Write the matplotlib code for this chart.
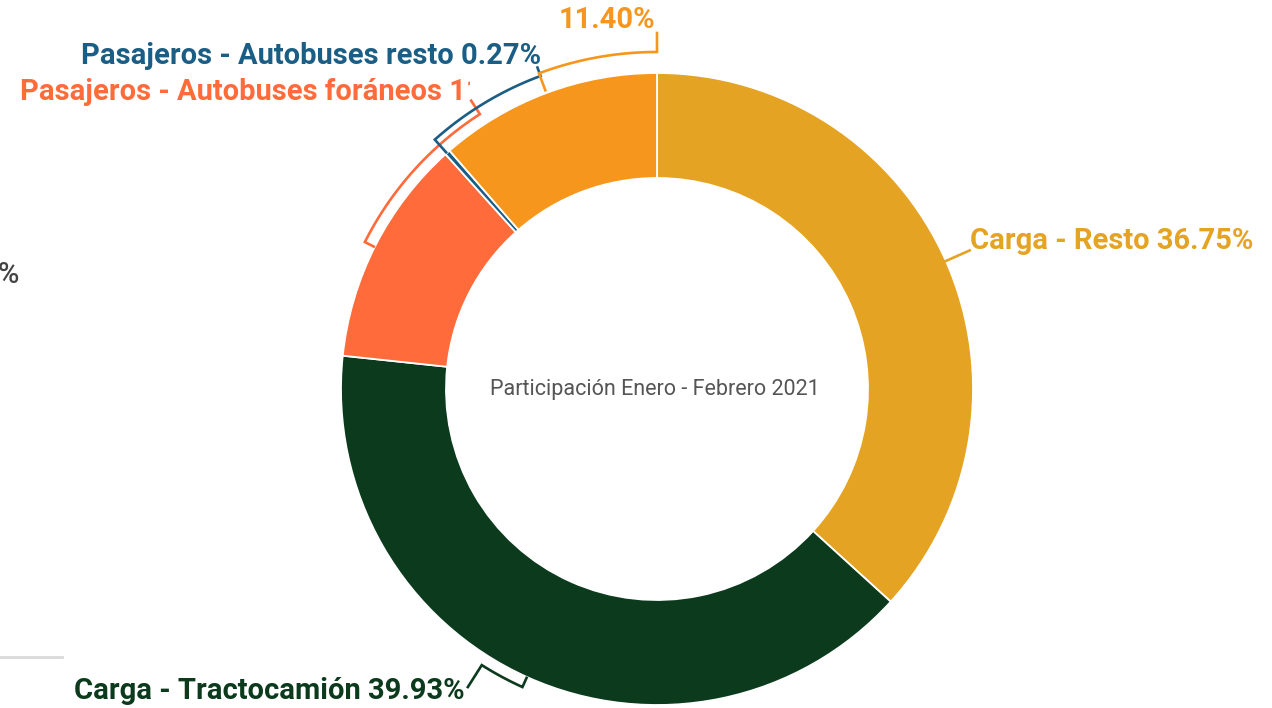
import numpy as np
import matplotlib.pyplot as plt
from matplotlib.patches import Rectangle

# participación por tipo de vehículo, ene-feb 2021 (clockwise from top)
categorias = ["Carga - Resto", "Carga - Tractocamión", "Pasajeros - Autobuses foráneos",
              "Pasajeros - Autobuses resto", "Pasajeros - Otros"]
valores = [36.75, 39.93, 11.65, 0.27, 11.40]
colores = ["#E5A323", "#0B3A1C", "#FF6B3A", "#1B5E85", "#F7961D"]
etiquetas = ["Carga - Resto 36.75%", "Carga - Tractocamión 39.93%",
             "Pasajeros - Autobuses foráneos 11.65%", "Pasajeros - Autobuses resto 0.27%",
             "11.40%"]

W, H = 1272, 708
CX, CY = 657, 389          # donut centre, pixels from top-left
R, ANCHO = 316, 105

plt.rcParams["font.family"] = ["Roboto", "DejaVu Sans"]

fig = plt.figure(figsize=(W / 100, H / 100), dpi=100)
ax = fig.add_axes([0, 0, 1, 1])
ax.pie(valores, colors=colores, startangle=90, counterclock=False,
       radius=R, center=(CX, H - CY),
       wedgeprops=dict(width=ANCHO, edgecolor="white", linewidth=1.3))
ax.set_xlim(0, W)
ax.set_ylim(0, H)
ax.set_aspect("equal")
ax.axis("off")

def polar(a, r):
    a = np.radians(a)
    return CX + r * np.cos(a), H - CY + r * np.sin(a)

def conector(a0, a1, r0, r1, r2, color):
    # radial tick, arc, radial leg to the label
    xs, ys = [], []
    x, y = polar(a0, r0); xs.append(x); ys.append(y)
    for a in np.linspace(a0, a1, 40):
        x, y = polar(a, r1); xs.append(x); ys.append(y)
    x, y = polar(a1, r2); xs.append(x); ys.append(y)
    ax.plot(xs, ys, color=color, lw=1.9, solid_joinstyle="miter", zorder=5)

# connector geometry: (tick angle, label angle, r tick, r arc, r label)
geo = [(23.9, 23.9, 316, 330, 342),
       (245.7, 237.6, 317, 327, 353),
       (153.3, 122.8, 317, 327, 343),
       (131.7, 110.4, 317, 334, 343),
       (110.5, 90.0, 319, 337, 356)]
for (a0, a1, r0, r1, r2), c in zip(geo, colores):
    conector(a0, a1, r0, r1, r2, c)

fs = 21
ax.text(970, H - 241, etiquetas[0], color=colores[0], fontsize=fs, fontweight="bold",
        ha="left", va="center")
ax.text(465, H - 691, etiquetas[1], color=colores[1], fontsize=fs, fontweight="bold",
        ha="right", va="center")
t = ax.text(20, H - 92, etiquetas[2], color=colores[2], fontsize=fs, fontweight="bold",
            ha="left", va="center")
t.set_clip_path(Rectangle((0, 0), 470, H, transform=ax.transData))
t.set_clip_on(True)
ax.text(541, H - 56, etiquetas[3], color=colores[3], fontsize=fs, fontweight="bold",
        ha="right", va="center")
ax.text(655, H - 20, etiquetas[4], color=colores[4], fontsize=fs, fontweight="bold",
        ha="right", va="center")

ax.text(CX - 2, H - 390, "Participación Enero - Febrero 2021", color="#555555",
        fontsize=15.5, ha="center", va="center")

# leftovers of the neighbouring chart
ax.text(19, H - 275, "%", color="#444444", fontsize=21, fontweight="medium",
        ha="right", va="center")
ax.plot([0, 62], [H - 657, H - 657], color="#d9d9d9", lw=2)

fig.savefig("out.png", dpi=100)
